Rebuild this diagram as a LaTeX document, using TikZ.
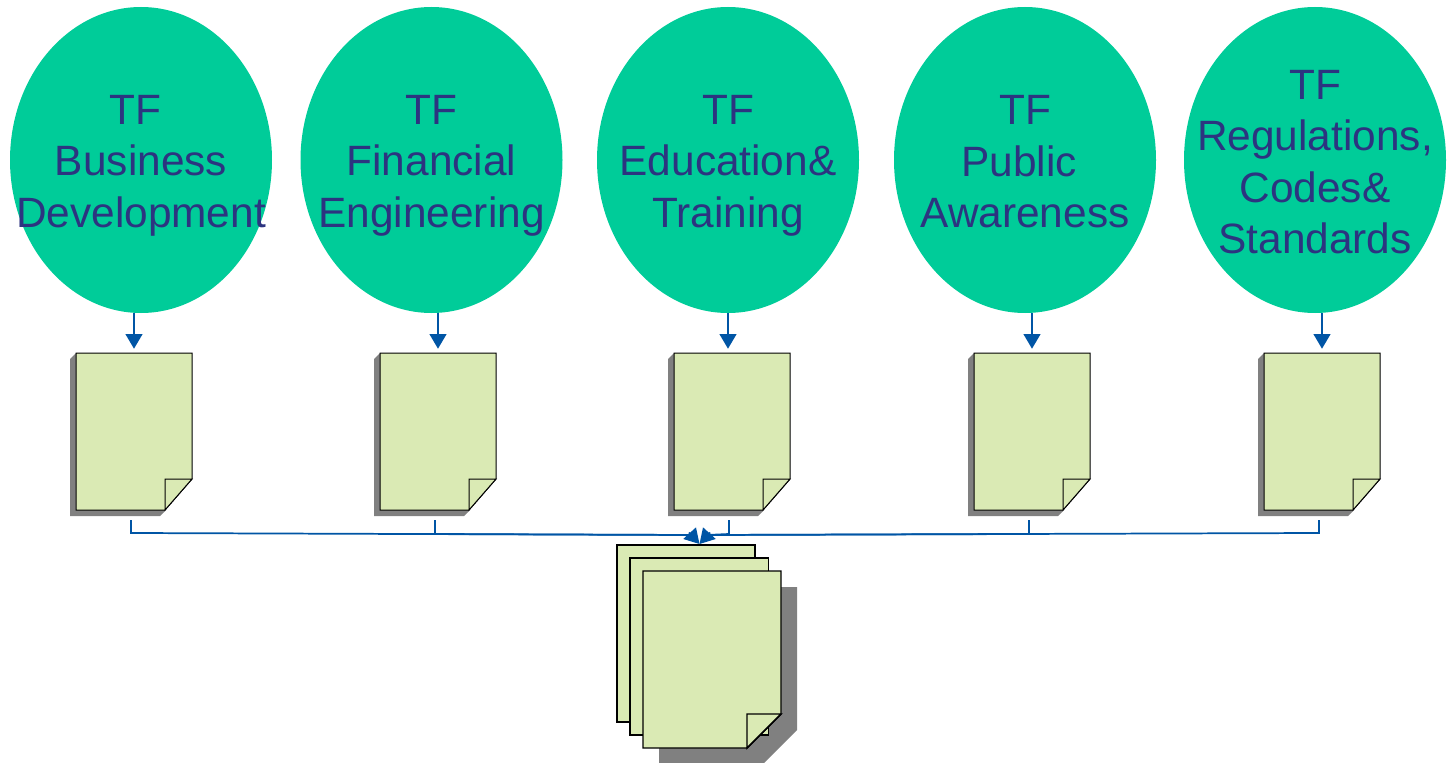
\documentclass[tikz,border=0pt]{standalone}
\usepackage{fontspec}
\setmainfont{Liberation Sans}
\usetikzlibrary{arrows.meta,shapes.geometric}
\definecolor{tfgreen}{HTML}{00CC99}
\definecolor{tfnavy}{HTML}{2C3480}
\definecolor{pagefill}{HTML}{DAEAB4}
\definecolor{linkblue}{HTML}{0055A5}
\definecolor{shadowgrey}{HTML}{808080}
\tikzset{
  tfoval/.style={ellipse,fill=tfgreen,inner sep=0pt,minimum width=196.5pt,minimum height=229.5pt},
  tftext/.style={text=tfnavy,align=center,inner sep=0pt,font=\fontsize{31.8pt}{38.7pt}\selectfont},
  pageanchor/.style={inner sep=0pt,minimum width=87pt,minimum height=117.75pt},
  link/.style={linkblue,line width=1.3pt,line join=miter},
  linktip/.style={-{Triangle[length=11pt,width=12.6pt]}},
  pageline/.style={draw=black,fill=pagefill,line join=miter},
}
% small document: #1 name, #2 left x
\newcommand{\smalldoc}[2]{%
  \fill[shadowgrey] (#2-6,359) -- (#2-6,516) -- (#2+84,516) -- (#2+90,510) -- (#2,353) -- cycle;
  \node[pageanchor] (#1) at (#2+58,431.5) {};
  \draw[pageline,line width=.75pt] (#2,353) -- (#2+116,353) -- (#2+116,479) -- (#2+89,510) -- (#2,510) -- cycle;
  \draw[pageline,line width=.75pt] (#2+89,510) -- (#2+89,479) -- (#2+116,479) -- cycle;
}
\begin{document}
\begin{tikzpicture}[x=.75pt,y=-.75pt]
\useasboundingbox (0,0) rectangle (1447,763);
\clip (0,0) rectangle (1447,763);
% ovals
\node[tfoval] (e1) at (141,160) {};
\node[tfoval] (e2) at (431.5,160) {};
\node[tfoval] (e3) at (728,160) {};
\node[tfoval] (e4) at (1025,160) {};
\node[tfoval] (e5) at (1315,160) {};
\node[tftext,yshift=-4.1pt] (t1) at (e1) {\mbox{TF\hspace{.278em}}\\Business\\Development};
\node[tftext,yshift=-4.1pt] (t2) at (e2) {TF\\Financial\\Engineering};
\node[tftext,yshift=-4.1pt] (t3) at (e3) {TF\\Education\&\\Training};
\node[tftext,yshift=-1.5pt] (t4) at (e4) {TF\\\mbox{Public\hspace{.278em}}\\Awareness};
\node[tftext,yshift=-1.6pt] (t5) at (e5) {TF\\Regulations,\\Codes\&\\Standards};
% documents
\smalldoc{d1}{76}
\smalldoc{d2}{380}
\smalldoc{d3}{674}
\smalldoc{d4}{974}
\smalldoc{d5}{1264}
% arrows to documents
\draw[link,linktip,shorten >=3pt] (d1.north |- e1.south) -- (d1.north);
\draw[link,linktip,shorten >=3pt] (d2.north |- e2.south) -- (d2.north);
\draw[link,linktip,shorten >=3pt] (e3.south) -- (e3.south |- d3.north);
\draw[link,linktip,shorten >=3pt] (d4.north |- e4.south) -- (d4.north);
\draw[link,linktip,shorten >=3pt] (d5.north |- e5.south) -- (d5.north);
% stack
\fill[shadowgrey] (659,587) -- (797,587) -- (797,730) -- (763,764) -- (659,764) -- cycle;
\draw[pageline,line width=1.1pt] (617,545) rectangle (755,722);
\draw[pageline,line width=1.3pt] (630,558) rectangle (768.5,735);
\node[inner sep=0pt,minimum width=103.5pt,minimum height=132.75pt] (p3) at (712,659.5) {};
\draw[pageline,line width=1.1pt] (643,571) -- (781,571) -- (781,714) -- (747,748) -- (643,748) -- cycle;
\draw[pageline,line width=1.1pt] (747,748) -- (747,714) -- (781,714) -- cycle;
% links to stack
\coordinate (m) at (699.5,544);
\coordinate (hl) at (689,532.5);
\coordinate (hr) at (710,532.5);
\coordinate (jl) at (692,535);
\coordinate (jr) at (707,535);
\coordinate (b1) at (131,520);
\coordinate (b2) at (435,520);
\coordinate (b3) at (729,520);
\coordinate (b4) at (1029,520);
\coordinate (b5) at (1319,520);
\draw[link] (b1) -- (131,533) -- (jl);
\draw[link] (b2) -- (435,534) -- (jl);
\draw[link] (b3) -- (729,534) -- (jr);
\draw[link] (b4) -- (1029,534) -- (jr);
\draw[link] (b5) -- (1319,533) -- (jr);
\draw[link,linktip] (hl) -- (m);
\draw[link,linktip] (hr) -- (m);
\end{tikzpicture}
\end{document}
